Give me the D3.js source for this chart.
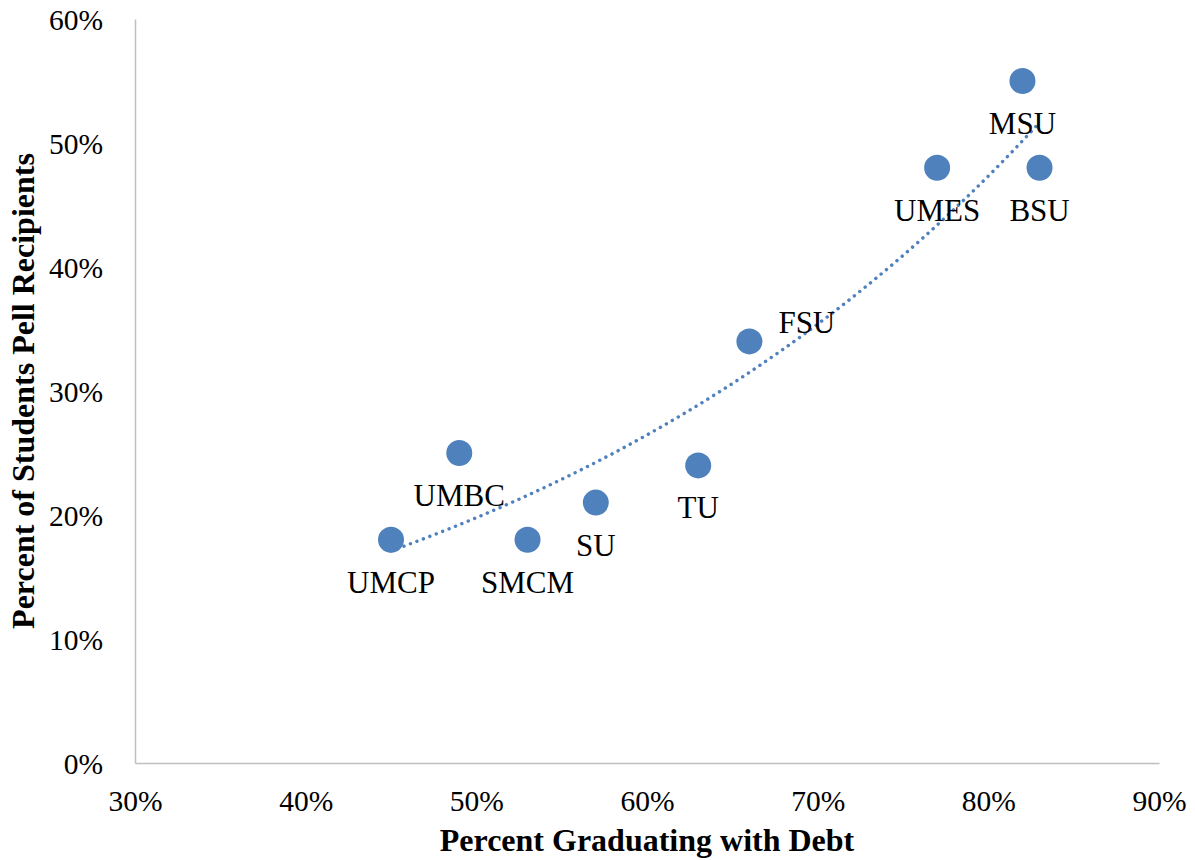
<!DOCTYPE html>
<html>
<head>
<meta charset="utf-8">
<script src="https://cdn.jsdelivr.net/npm/d3@7"></script>
<style>
  html, body { margin: 0; padding: 0; background: #fff; }
  svg { display: block; }
  svg text { font-family: "Liberation Serif", "Times New Roman", Times, serif !important; }
</style>
</head>
<body>
<svg id="chart" width="1195" height="860"></svg>
<script>
// ---- Data ----
const schools = ["UMCP", "UMBC", "SMCM", "SU", "TU", "FSU", "UMES", "MSU", "BSU"];
const pctDebt = [0.45, 0.49, 0.53, 0.57, 0.63, 0.66, 0.77, 0.82, 0.83];
const pctPell = [0.18, 0.25, 0.18, 0.21, 0.24, 0.34, 0.48, 0.55, 0.48];
const labelPos = ["below", "below", "below", "below", "below", "right", "below", "below", "below"];
const xTicks = [0.3, 0.4, 0.5, 0.6, 0.7, 0.8, 0.9];
const yTicks = [0, 0.1, 0.2, 0.3, 0.4, 0.5, 0.6];
const xTitle = "Percent Graduating with Debt";
const yTitle = "Percent of Students Pell Recipients";

const FONT = "'Liberation Serif', 'Times New Roman', Times, serif";
const svg = d3.select("#chart");
const x = d3.scaleLinear().domain([0.3, 0.9]).range([135, 1159]);
const y = d3.scaleLinear().domain([0, 0.6]).range([763, 19]);
const fmt = d3.format(".0%");
const blue = "#4f81bd";
const axisGray = "#bfbfbf";

// Axes
const xAxis = d3.axisBottom(x).tickValues(xTicks).tickFormat(fmt).tickSize(0).tickPadding(0);
const gx = svg.append("g").attr("transform", `translate(0,${y(0)})`).call(xAxis)
  .attr("font-family", FONT);
gx.select(".domain").attr("stroke", axisGray).attr("stroke-width", 1.5);
gx.selectAll("text").attr("font-size", 29.5).attr("font-family", FONT)
  .attr("fill", "#000").attr("y", 48).attr("dy", 0);

const yAxis = d3.axisLeft(y).tickValues(yTicks).tickFormat(fmt).tickSize(0).tickPadding(0);
const gy = svg.append("g").attr("transform", `translate(${x(0.3)},0)`).call(yAxis)
  .attr("font-family", FONT);
gy.select(".domain").attr("stroke", axisGray).attr("stroke-width", 1.5);
gy.selectAll("text").attr("font-size", 29.5).attr("font-family", FONT)
  .attr("fill", "#000").attr("x", -32).attr("dy", "0.34em");

// Exponential trendline (least squares on ln y)
const n = pctDebt.length;
const lny = pctPell.map(Math.log);
const mx = d3.mean(pctDebt), my = d3.mean(lny);
let sxy = 0, sxx = 0;
for (let i = 0; i < n; i++) { sxy += (pctDebt[i] - mx) * (lny[i] - my); sxx += (pctDebt[i] - mx) ** 2; }
const b = sxy / sxx, a = Math.exp(my - b * mx);
const x0 = d3.min(pctDebt), x1 = d3.max(pctDebt);
const trend = d3.range(0, 101).map(i => { const xv = x0 + (x1 - x0) * i / 100; return [xv, a * Math.exp(b * xv)]; });
svg.append("path")
  .datum(trend)
  .attr("d", d3.line().x(d => x(d[0])).y(d => y(d[1])))
  .attr("fill", "none").attr("stroke", blue).attr("stroke-width", 3.4)
  .attr("stroke-linecap", "round").attr("stroke-dasharray", "0.1,6.8");

// Points
const pts = schools.map((s, i) => ({ name: s, x: pctDebt[i], y: pctPell[i], pos: labelPos[i] }));
svg.append("g").selectAll("circle").data(pts).join("circle")
  .attr("cx", d => x(d.x)).attr("cy", d => y(d.y)).attr("r", 13).attr("fill", blue);

// Labels
svg.append("g").selectAll("text").data(pts).join("text")
  .attr("x", d => d.pos === "right" ? x(d.x) + 29 : x(d.x))
  .attr("y", d => d.pos === "right" ? y(d.y) - 8 : y(d.y) + 53)
  .attr("text-anchor", d => d.pos === "right" ? "start" : "middle")
  .attr("font-family", FONT)
  .attr("font-size", 31).attr("fill", "#000")
  .text(d => d.name);

// Titles
svg.append("text").attr("x", (x(0.3) + x(0.9)) / 2).attr("y", 851)
  .attr("text-anchor", "middle").attr("font-size", 32).attr("font-weight", "bold")
  .attr("font-family", FONT)
  .text(xTitle);
svg.append("text").attr("transform", `translate(34,${(y(0) + y(0.6)) / 2}) rotate(-90)`)
  .attr("text-anchor", "middle").attr("font-size", 32).attr("font-weight", "bold")
  .attr("font-family", FONT)
  .text(yTitle);
</script>
</body>
</html>
